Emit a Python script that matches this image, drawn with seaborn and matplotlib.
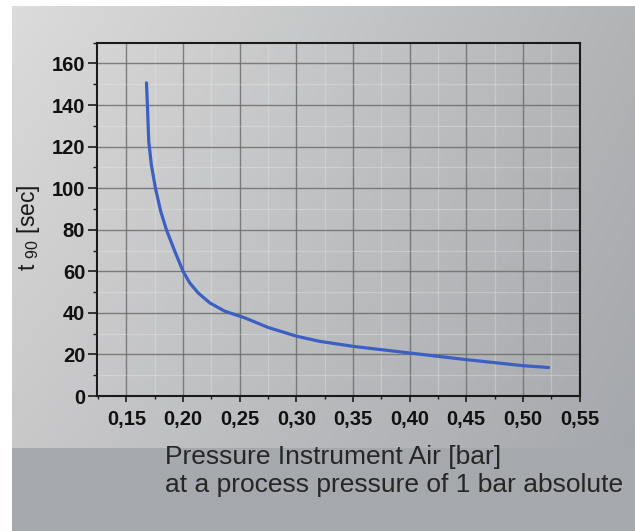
import numpy as np
import pandas as pd
import matplotlib
matplotlib.use("Agg")
import matplotlib.pyplot as plt
import seaborn as sns
from matplotlib.ticker import FixedLocator, FixedFormatter, MultipleLocator

# ---- data ----
pressure = [0.1677, 0.1685, 0.1697, 0.1720, 0.1756, 0.1803, 0.1853, 0.1927,
            0.2000, 0.2059, 0.2133, 0.2236, 0.2368, 0.2545, 0.2750, 0.3000,
            0.3206, 0.3500, 0.4000, 0.4500, 0.5000, 0.5227]
t90 = [150.7, 140.0, 122.4, 111.2, 100.0, 88.8, 80.0, 69.6,
       60.0, 54.4, 49.6, 44.8, 40.8, 37.6, 33.0, 28.8,
       26.3, 23.9, 20.7, 17.5, 14.6, 13.7]
x_ticks = [0.15, 0.20, 0.25, 0.30, 0.35, 0.40, 0.45, 0.50, 0.55]
x_tick_labels = ["0,15", "0,20", "0,25", "0,30", "0,35", "0,40", "0,45", "0,50", "0,55"]
y_ticks = [0, 20, 40, 60, 80, 100, 120, 140, 160]

df = pd.DataFrame({"pressure": pressure, "t90": t90})

sns.set_theme(style="ticks")
plt.rcParams["font.family"] = ["Liberation Sans", "DejaVu Sans"]
plt.rcParams["mathtext.fontset"] = "custom"
plt.rcParams["mathtext.rm"] = "Liberation Sans"

W, H = 635, 531
fig = plt.figure(figsize=(W / 100, H / 100), dpi=100)

# ---- background gradient panel ----
bg = fig.add_axes([0, 0, 1, 1], zorder=-5)
xx = np.linspace(0, 1, W)[None, :]
yy = np.linspace(0, 1, H)[:, None]
tl = np.array([0.865, 0.865, 0.865])
tr = np.array([0.700, 0.705, 0.712])
bl = np.array([0.775, 0.775, 0.780])
br = np.array([0.635, 0.648, 0.668])
img = ((1 - xx)[..., None] * (1 - yy)[..., None] * tl + xx[..., None] * (1 - yy)[..., None] * tr
       + (1 - xx)[..., None] * yy[..., None] * bl + xx[..., None] * yy[..., None] * br)
img[448:, :, :] = np.array([0.650, 0.660, 0.675])
img[:, :12, :] = 1.0
img[:6, :, :] = 1.0
bg.imshow(img, extent=(0, W, H, 0), aspect="auto", interpolation="bilinear")
bg.set_axis_off()

# ---- main axes ----
ax = fig.add_axes([97 / W, 1 - 396 / H, (579.5 - 97) / W, (396 - 42.7) / H])
ax.patch.set_alpha(0)

sns.lineplot(data=df, x="pressure", y="t90", ax=ax, color="#3c5fc2",
             linewidth=2.3, sort=False, zorder=5)

ax.set_xlim(0.124, 0.55)
ax.set_ylim(0, 170)

ax.xaxis.set_major_locator(FixedLocator(x_ticks))
ax.xaxis.set_major_formatter(FixedFormatter(x_tick_labels))
ax.xaxis.set_minor_locator(MultipleLocator(0.025))
ax.yaxis.set_major_locator(FixedLocator(y_ticks))
ax.yaxis.set_minor_locator(MultipleLocator(10))

ax.grid(which="major", color="#6e6e6e", linewidth=1.0, alpha=0.85)
ax.grid(which="minor", color="#e8e8e8", linewidth=0.9, alpha=0.35)
ax.set_axisbelow(True)

for s in ax.spines.values():
    s.set_color("#1a1a1a")
    s.set_linewidth(1.5)

ax.tick_params(axis="y", which="major", length=6.5, width=1.2, color="#1a1a1a",
               direction="out", pad=2, labelsize=14.5)
ax.tick_params(axis="y", which="minor", length=3, width=1.0, color="#1a1a1a", direction="out")
ax.tick_params(axis="x", which="major", length=4.5, width=1.2, color="#1a1a1a",
               direction="out", pad=5.5, labelsize=14.5)
ax.tick_params(axis="x", which="minor", length=2.5, width=1.0, color="#1a1a1a", direction="out")
for lab in ax.get_xticklabels() + ax.get_yticklabels():
    lab.set_fontweight("bold")
    lab.set_color("#111111")

ax.set_xlabel("")
ax.set_ylabel("")

# y label
fig.text(28 / W, 1 - 228 / H, r"t $_{\mathregular{90}}$ [sec]", rotation=90,
         ha="center", va="center", fontsize=16.5, color="#1a1a1a")

# x label (two lines)
fig.text(165 / W, 1 - 464 / H, "Pressure Instrument Air [bar]", ha="left",
         va="baseline", fontsize=19, color="#262626")
fig.text(165 / W, 1 - 492 / H, "at a process pressure of 1 bar absolute", ha="left",
         va="baseline", fontsize=19, color="#262626")

fig.savefig("out.png", dpi=100)
